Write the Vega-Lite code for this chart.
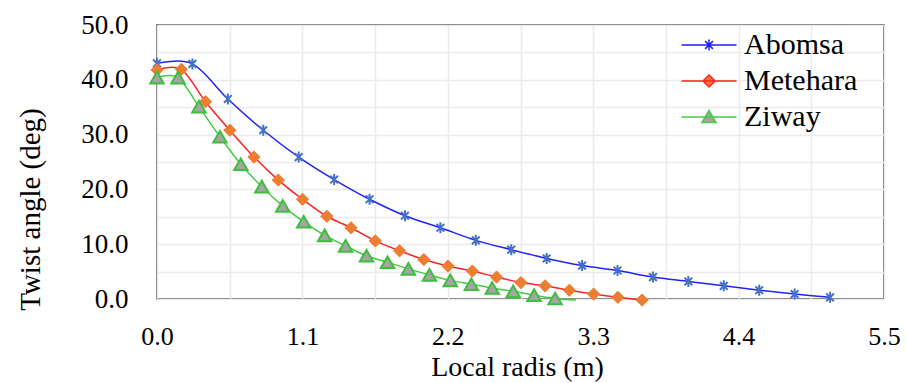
{
  "$schema": "https://vega.github.io/schema/vega-lite/v6.json",
  "width": 727,
  "height": 274,
  "autosize": {"type": "none"},
  "padding": {"left": 157, "top": 25, "right": 23, "bottom": 84},
  "background": "white",
  "config": {
    "view": {"stroke": "#404040", "strokeWidth": 1.5},
    "font": "'Liberation Serif', serif"
  },
  "data": {
    "values": [
      {"site": "Abomsa", "r": 0, "angle": 43.0},
      {"site": "Abomsa", "r": 0.268, "angle": 42.9},
      {"site": "Abomsa", "r": 0.536, "angle": 36.5},
      {"site": "Abomsa", "r": 0.804, "angle": 30.8},
      {"site": "Abomsa", "r": 1.072, "angle": 25.9},
      {"site": "Abomsa", "r": 1.34, "angle": 21.8},
      {"site": "Abomsa", "r": 1.608, "angle": 18.2},
      {"site": "Abomsa", "r": 1.876, "angle": 15.2},
      {"site": "Abomsa", "r": 2.144, "angle": 13.0},
      {"site": "Abomsa", "r": 2.412, "angle": 10.7},
      {"site": "Abomsa", "r": 2.68, "angle": 9.0},
      {"site": "Abomsa", "r": 2.948, "angle": 7.4},
      {"site": "Abomsa", "r": 3.216, "angle": 6.1},
      {"site": "Abomsa", "r": 3.484, "angle": 5.2},
      {"site": "Abomsa", "r": 3.752, "angle": 4.0},
      {"site": "Abomsa", "r": 4.02, "angle": 3.2},
      {"site": "Abomsa", "r": 4.288, "angle": 2.4},
      {"site": "Abomsa", "r": 4.556, "angle": 1.6},
      {"site": "Abomsa", "r": 4.824, "angle": 0.9},
      {"site": "Abomsa", "r": 5.092, "angle": 0.3},
      {"site": "Metehara", "r": 0, "angle": 41.8},
      {"site": "Metehara", "r": 0.184, "angle": 41.9},
      {"site": "Metehara", "r": 0.367, "angle": 36.0},
      {"site": "Metehara", "r": 0.551, "angle": 30.8},
      {"site": "Metehara", "r": 0.734, "angle": 25.9},
      {"site": "Metehara", "r": 0.918, "angle": 21.7},
      {"site": "Metehara", "r": 1.101, "angle": 18.2},
      {"site": "Metehara", "r": 1.285, "angle": 15.1},
      {"site": "Metehara", "r": 1.468, "angle": 13.0},
      {"site": "Metehara", "r": 1.652, "angle": 10.6},
      {"site": "Metehara", "r": 1.835, "angle": 8.8},
      {"site": "Metehara", "r": 2.019, "angle": 7.2},
      {"site": "Metehara", "r": 2.202, "angle": 6.0},
      {"site": "Metehara", "r": 2.386, "angle": 5.1},
      {"site": "Metehara", "r": 2.569, "angle": 4.0},
      {"site": "Metehara", "r": 2.753, "angle": 3.0},
      {"site": "Metehara", "r": 2.936, "angle": 2.4},
      {"site": "Metehara", "r": 3.12, "angle": 1.6},
      {"site": "Metehara", "r": 3.303, "angle": 0.9},
      {"site": "Metehara", "r": 3.487, "angle": 0.3},
      {"site": "Metehara", "r": 3.67, "angle": -0.2},
      {"site": "Ziway", "r": 0, "angle": 40.4},
      {"site": "Ziway", "r": 0.159, "angle": 40.4},
      {"site": "Ziway", "r": 0.317, "angle": 35.1},
      {"site": "Ziway", "r": 0.476, "angle": 29.6},
      {"site": "Ziway", "r": 0.634, "angle": 24.6},
      {"site": "Ziway", "r": 0.793, "angle": 20.5},
      {"site": "Ziway", "r": 0.951, "angle": 17.0},
      {"site": "Ziway", "r": 1.11, "angle": 14.1},
      {"site": "Ziway", "r": 1.268, "angle": 11.6},
      {"site": "Ziway", "r": 1.427, "angle": 9.7},
      {"site": "Ziway", "r": 1.585, "angle": 7.9},
      {"site": "Ziway", "r": 1.744, "angle": 6.7},
      {"site": "Ziway", "r": 1.902, "angle": 5.5},
      {"site": "Ziway", "r": 2.061, "angle": 4.4},
      {"site": "Ziway", "r": 2.219, "angle": 3.4},
      {"site": "Ziway", "r": 2.378, "angle": 2.7},
      {"site": "Ziway", "r": 2.536, "angle": 2.0},
      {"site": "Ziway", "r": 2.695, "angle": 1.4},
      {"site": "Ziway", "r": 2.853, "angle": 0.7},
      {"site": "Ziway", "r": 3.012, "angle": 0.1},
      {"site": "Ziway", "r": 3.17, "angle": -0.2}
    ]
  },
  "encoding": {
    "x": {
      "field": "r",
      "type": "quantitative",
      "scale": {"domain": [0, 5.5], "nice": false, "zero": false},
      "axis": {
        "values": [0, 0.55, 1.1, 1.65, 2.2, 2.75, 3.3, 3.85, 4.4, 4.95, 5.5],
        "labelExpr": "round(datum.value / 0.55) % 2 == 0 ? format(datum.value, '.1f') : ''",
        "grid": true,
        "gridColor": "#EBEBEB",
        "gridWidth": 1.5,
        "ticks": false,
        "domain": false,
        "labelFlush": false,
        "labelOverlap": false,
        "labelBound": false,
        "labelFont": "'Liberation Serif', serif",
        "labelFontSize": 26,
        "labelColor": "#000000",
        "labelPadding": 24,
        "title": "Local radis (m)",
        "titleFont": "'Liberation Serif', serif",
        "titleFontSize": 28,
        "titleFontWeight": "normal",
        "titleColor": "#000000",
        "titleX": 360,
        "titleY": 76,
        "titleBaseline": "alphabetic"
      }
    },
    "y": {
      "field": "angle",
      "type": "quantitative",
      "scale": {"domain": [0, 50], "nice": false, "zero": false},
      "axis": {
        "values": [0, 5, 10, 15, 20, 25, 30, 35, 40, 45, 50],
        "labelExpr": "datum.value % 10 == 0 ? format(datum.value, '.1f') : ''",
        "grid": true,
        "gridColor": "#EBEBEB",
        "gridWidth": 1.5,
        "ticks": false,
        "domain": false,
        "labelOverlap": false,
        "labelBound": false,
        "labelFlush": false,
        "labelFont": "'Liberation Serif', serif",
        "labelFontSize": 27,
        "labelColor": "#000000",
        "labelPadding": 29,
        "title": "Twist angle (deg)",
        "titleFont": "'Liberation Serif', serif",
        "titleFontSize": 29,
        "titleFontWeight": "normal",
        "titleColor": "#000000",
        "titleX": -127,
        "titleY": 184,
        "titleBaseline": "middle"
      }
    }
  },
  "layer": [
    {
      "mark": {"type": "line", "interpolate": "cardinal", "strokeWidth": 1.5},
      "encoding": {
        "stroke": {
          "field": "site",
          "type": "nominal",
          "scale": {"domain": ["Abomsa", "Metehara", "Ziway"], "range": ["#2222FF", "#FF2222", "#44CC44"]},
          "legend": {
            "orient": "none",
            "legendX": 537,
            "legendY": 5,
            "title": null,
            "symbolSize": 100,
            "symbolStrokeWidth": 1.5,
            "labelFont": "'Liberation Serif', serif",
            "labelFontSize": 30,
            "labelColor": "#000000",
            "labelOffset": 20,
            "rowPadding": 6,
            "padding": 0,
            "encode": {
              "symbols": {
                "update": {
                  "shape": {"signal": "datum.value === 'Abomsa' ? 'M-5.5,0H5.5M-0.78,-0.78L0.78,0.78M-0.78,0.78L0.78,-0.78M0,-1.1V1.1' : datum.value === 'Metehara' ? 'M-5.5,0H5.5M0,-1.2L1.2,0L0,1.2L-1.2,0Z' : 'M-5.5,0H5.5M0,-1.3L1.4,1.1L-1.4,1.1Z'"},
                  "fill": {"signal": "datum.value === 'Abomsa' ? 'transparent' : datum.value === 'Metehara' ? '#ED7D31' : '#A5A5A5'"},
                  "fillOpacity": {"value": 1},
                  "opacity": {"value": 1}
                }
              }
            }
          }
        }
      }
    },
    {
      "transform": [{"filter": "datum.site === 'Abomsa'"}],
      "mark": {"type": "point", "shape": "M-0.7,-0.7L0.7,0.7M-0.7,0.7L0.7,-0.7M0,-1V1", "size": 121, "filled": false, "stroke": "#4472C4", "strokeWidth": 2, "opacity": 1}
    },
    {
      "transform": [{"filter": "datum.site === 'Metehara'"}],
      "mark": {"type": "point", "shape": "diamond", "size": 150, "filled": true, "fill": "#ED7D31", "stroke": "#ED7D31", "strokeWidth": 1, "opacity": 1}
    },
    {
      "transform": [{"filter": "datum.site === 'Ziway' && datum.r < 3.1"}],
      "mark": {"type": "point", "shape": "triangle-up", "size": 180, "filled": true, "fill": "#A5A5A5", "stroke": "#3DBE3D", "strokeWidth": 2, "opacity": 1}
    }
  ]
}
